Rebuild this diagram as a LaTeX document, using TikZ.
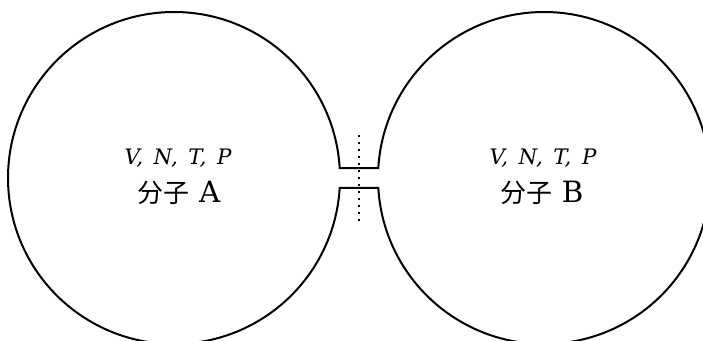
\documentclass[tikz,border=0pt]{standalone}
\usepackage{fontspec}
\setmainfont{DejaVu Serif}
\newfontfamily\cjk{Noto Sans CJK SC}
\usetikzlibrary{positioning}
\tikzset{
  wall/.style={line width=1.5pt, line join=miter},
  sepline/.style={line width=1.8pt, dash pattern=on 1.6pt off 3.65pt},
  varlbl/.style={anchor=base, inner sep=0pt, font=\fontsize{16}{19}\selectfont\itshape},
  gaslbl/.style={anchor=base, inner sep=0pt, font=\fontsize{22}{26}\selectfont}
}
\newcommand{\vsep}{\hspace{0.5em}}

\begin{document}
\begin{tikzpicture}[x=0.75pt,y=0.75pt]
    \useasboundingbox (0,0) rectangle (703,341);
    \clip (0,0) rectangle (703,341);
    \coordinate (ca) at (174,163);
    \coordinate (cb) at (544,163);
    % two vessels joined by a short tube
    \draw[wall] (ca) ++(3.45:166) arc[start angle=3.45, end angle=356.55, radius=166]
        -- ++(38.6,0) arc[start angle=183.45, end angle=536.55, radius=166] -- cycle;
    \coordinate (st) at (359,206);
    \coordinate (sb) at (359,119);
    \draw[sepline] (st) -- (sb);
    \node[varlbl] (va) at (178,176) {V,\vsep N,\vsep T,\vsep P};
    \node[gaslbl] (ga) at (179,138) {{\cjk\fontsize{19.5}{22}\selectfont 分子} A};
    \node[varlbl] (vb) at (543,176) {V,\vsep N,\vsep T,\vsep P};
    \node[gaslbl] (gb) at (542,138) {{\cjk\fontsize{19.5}{22}\selectfont 分子} B};
  \end{tikzpicture}
\end{document}
